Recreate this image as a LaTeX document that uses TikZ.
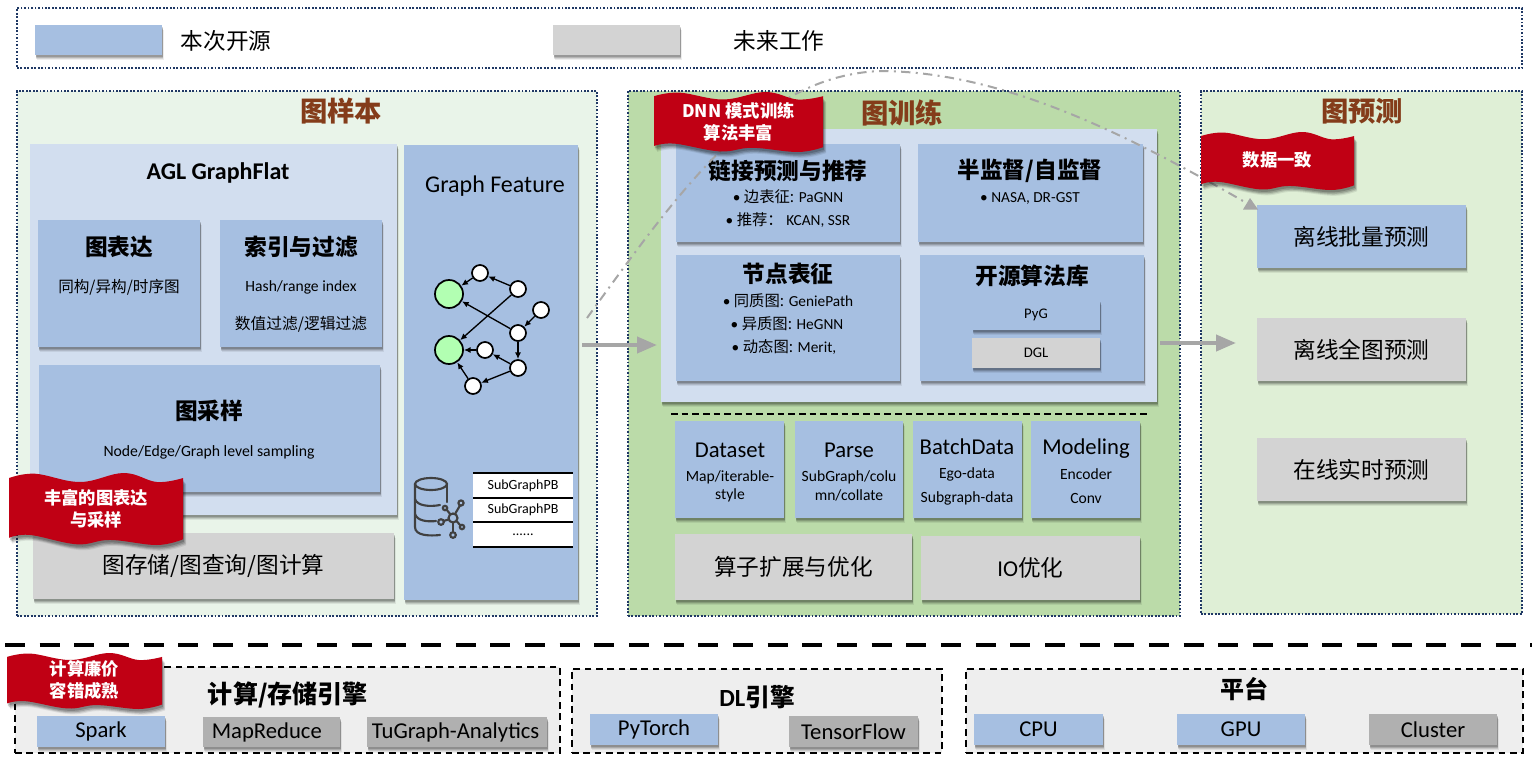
\documentclass[tikz,border=0pt]{standalone}
\usepackage{fontspec}
\setmainfont{Carlito}
\newfontfamily\cjk{Noto Sans CJK SC}
\usetikzlibrary{arrows.meta,shadows,calc}
\definecolor{bluebox}{HTML}{A6BFE1}
\definecolor{palebox}{HTML}{D2DEEF}
\definecolor{greybox}{HTML}{D3D3D3}
\definecolor{midgrey}{HTML}{B0B0B0}
\definecolor{panelA}{HTML}{E9F4E9}
\definecolor{panelB}{HTML}{BBDBA9}
\definecolor{panelC}{HTML}{DFEFD6}
\definecolor{titlebrown}{HTML}{843C1A}
\definecolor{flagred}{HTML}{C00014}
\definecolor{dotblue}{HTML}{1F3864}
\definecolor{arrowgrey}{HTML}{A6A6A6}
\definecolor{iconink}{HTML}{404040}
\newcommand\fs[1]{\fontsize{#1}{#1}\selectfont}
\newcommand\C[1]{{\cjk #1}}
\newcommand\dn[1]{\raisebox{-1.3pt}{#1}}
\tikzset{
  x=0.75pt,y=-0.75pt,
  boxbase/.style={inner sep=0pt,outer sep=0pt,align=center},
  softshadow/.style={
    general shadow={shadow xshift=1.2pt,shadow yshift=-3.4pt,fill=black,opacity=.07},
    general shadow={shadow xshift=1pt,shadow yshift=-2.8pt,fill=black,opacity=.10},
    general shadow={shadow xshift=.7pt,shadow yshift=-2.1pt,fill=black,opacity=.14},
    general shadow={shadow xshift=.4pt,shadow yshift=-1.3pt,fill=black,opacity=.16}},
  bluef/.style={boxbase,softshadow,fill=bluebox},
  palef/.style={boxbase,softshadow,fill=palebox},
  greyf/.style={boxbase,softshadow,fill=greybox},
  midf/.style={boxbase,softshadow,fill=midgrey},
  panel/.style={boxbase,draw=dotblue,line width=1.3pt,dash pattern=on 1.3pt off 1.3pt},
  engine/.style={boxbase,fill=black!6.5,draw=black,line width=1.2pt,dash pattern=on 5pt off 3.5pt},
  lbl/.style={inner sep=0pt,outer sep=0pt,align=center,text=black},
  bigarrow/.style={draw=arrowgrey,line width=3pt,-{Triangle[length=15pt,width=12pt]}},
  curvearrow/.style={draw=arrowgrey,line width=1.5pt,dash pattern=on 7pt off 4pt on 1.5pt off 4pt},
  green dot/.style={circle,draw=black,line width=1.3pt,fill=green!30!white!100,minimum size=21pt,inner sep=0pt},
  white dot/.style={circle,draw=black,line width=1.3pt,fill=white,minimum size=12pt,inner sep=0pt},
  gedge/.style={draw=black,line width=1pt,-{Latex[length=5pt,width=4.5pt]}},
  icon/.style={draw=iconink,line width=1.6pt},
  tablerow/.style={boxbase,fill=white},
  tablerule/.style={draw=black,line width=1pt},
  flagtext/.style={inner sep=0pt,align=center,text=white,font=\cjk\bfseries\fontsize{13}{16.5}\selectfont},
}
\newcommand\bx[7]{%
  \pgfmathsetmacro\cx{(#3+#5)/2}\pgfmathsetmacro\cy{(#4+#6)/2}%
  \pgfmathsetmacro\ww{(#5-#3)*0.75}\pgfmathsetmacro\hh{(#6-#4)*0.75}%
  \node[#2,minimum width=\ww pt,minimum height=\hh pt] (#1) at (\cx,\cy) {#7};}
\newcommand\tx[5]{\node[lbl,#4] (#1) at (#2,#3) {#5};}
% wave flag: name x1 y1 x2 y2 text
\newcommand\flagbox[6]{%
  \pgfmathsetmacro\ww{(#4-#2)*0.75}\pgfmathsetmacro\hh{(#5-#3)*0.75}%
  \begin{scope}[shift={(#2,#3)},x=\ww pt,y=-\hh pt]
    \path[fill=flagred,
      general shadow={shadow xshift=2.4pt,shadow yshift=-4.4pt,fill=black,opacity=.08},
      general shadow={shadow xshift=1.9pt,shadow yshift=-3.6pt,fill=black,opacity=.12},
      general shadow={shadow xshift=1.3pt,shadow yshift=-2.8pt,fill=black,opacity=.16},
      general shadow={shadow xshift=.7pt,shadow yshift=-1.8pt,fill=black,opacity=.18}]
      plot[smooth,tension=.65] coordinates {(0,.07) (.15,.01) (.41,.125) (.66,0) (.85,.125) (1,.07)}
      -- plot[smooth,tension=.65] coordinates {(1,.92) (.85,1) (.58,.93) (.39,.99) (.12,.86) (0,.90)}
      -- cycle;
    \node[flagtext] (#1) at (.5,.49) {#6};
  \end{scope}}
\begin{document}
\begin{tikzpicture}
\useasboundingbox (0,0) rectangle (1537,767);
\fill[white] (0,0) rectangle (1537,767);

% legend
\bx{legend}{panel}{17}{8}{1522}{68}{}
\bx{swblue}{bluef}{35}{25}{162}{55}{}
\bx{swgrey}{greyf}{553}{25}{680}{55}{}
\tx{ltxtA}{226}{41}{font=\cjk\fs{17}}{本次开源}
\tx{ltxtB}{779}{41}{font=\cjk\fs{17}}{未来工作}

% panels
\bx{pA}{panel,fill=panelA}{17}{91}{597}{616}{}
\bx{pB}{panel,fill=panelB}{628}{91}{1180}{616}{}
\bx{pC}{panel,fill=panelC}{1201}{91}{1522}{614}{}
\tx{tA}{341}{111}{font=\cjk\bfseries\fs{20.5},text=titlebrown}{图样本}
\tx{tB}{902}{113}{font=\cjk\bfseries\fs{20.5},text=titlebrown}{图训练}
\tx{tC}{1362}{111}{font=\cjk\bfseries\fs{20.5},text=titlebrown}{图预测}

% left panel
\bx{agl}{palef}{30}{144}{397}{515}{}
\tx{aglT}{218}{173}{font=\bfseries\fs{18}}{AGL GraphFlat}
\bx{feat}{bluef}{404}{145}{578}{600}{}
\tx{featT}{495}{186}{font=\fs{18}}{Graph Feature}
\bx{bA}{bluef}{38}{220}{200}{347}{}
\tx{bAt}{119}{247}{font=\cjk\bfseries\fs{17}}{图表达}
\tx{bAs}{119}{287}{font=\cjk\fs{11.7}}{同构/异构/时序图}
\bx{bB}{bluef}{220}{220}{382}{347}{}
\tx{bBt}{301}{247}{font=\cjk\bfseries\fs{17}}{索引与过滤}
\tx{bBs}{301}{287}{font=\fs{11.7}}{Hash/range index}
\tx{bBu}{301}{324}{font=\cjk\fs{11.8}}{数值过滤/逻辑过滤}
\bx{bC}{bluef}{39}{365}{380}{492}{}
\tx{bCt}{209}{411}{font=\cjk\bfseries\fs{17}}{图采样}
\tx{bCs}{209}{452}{font=\fs{11.8}}{Node/Edge/Graph level sampling}
\bx{store}{greyf}{33}{533}{394}{599}{\cjk\fs{17}\dn{图存储/图查询/图计算}}

% graph
\node[green dot] (g1) at (449,294) {};
\node[green dot] (g2) at (449,350) {};
\node[white dot] (na) at (480,273) {};
\node[white dot] (nb) at (518,289) {};
\node[white dot] (nc) at (541,310) {};
\node[white dot] (nd) at (518,333) {};
\node[white dot] (ne) at (485,350) {};
\node[white dot] (nf) at (518,368) {};
\node[white dot] (ng) at (473,386) {};
\foreach \s/\t in {na/g1,nb/na,nb/g2,nd/g1,nc/nd,nd/nf,nf/ne,ne/g2,nf/ng,ng/g2}
  \draw[gedge] (\s) -- (\t);

% database icon
\draw[icon] (431,484) ellipse [x radius=16,y radius=6];
\draw[icon,line cap=round] (415,484) -- (415,527) .. controls (415,536) and (430,536) .. (440,535);
\draw[icon,line cap=round] (447,484) -- (447,502);
\draw[icon,line cap=round] (415,499) .. controls (417,506) and (430,507) .. (440,505);
\draw[icon,line cap=round] (415,514) .. controls (417,521) and (428,522) .. (436,521);
\draw[icon] (453,518) circle [radius=4.5];
\draw[icon] (461,503) circle [radius=2.6];
\draw[icon] (445,508) circle [radius=2.2];
\draw[icon] (441,522) circle [radius=2.8];
\draw[icon] (462,527) circle [radius=2.2];
\draw[icon] (453,535) circle [radius=2.8];
\draw[icon] (455,514) -- (460,505.5);
\draw[icon] (450.5,514.5) -- (446.5,509.5);
\draw[icon] (448.5,519.5) -- (443.6,521);
\draw[icon] (456.5,521) -- (460.5,525.5);
\draw[icon] (453,522.5) -- (453,532);

% subgraph table
\bx{rowA}{tablerow}{473}{473}{573}{498}{\fs{10.5}\dn{SubGraphPB}}
\bx{rowB}{tablerow}{473}{498}{573}{522}{\fs{10.5}\dn{SubGraphPB}}
\bx{rowC}{tablerow}{473}{522}{573}{547}{\fs{10.5}\dn{......}}
\draw[tablerule] (rowA.north west) -- (rowA.north east);
\draw[tablerule] (rowA.south west) -- (rowA.south east);
\draw[tablerule] (rowB.south west) -- (rowB.south east);
\draw[tablerule] (rowC.south west) -- (rowC.south east);

% centre panel
\bx{inner}{palef}{661}{129}{1157}{402}{}
\bx{cA}{bluef}{676}{144}{900}{242}{}
\tx{cAt}{788}{171}{font=\cjk\bfseries\fs{17}}{链接预测与推荐}
\tx{cAs}{788}{197}{font=\fs{11.5}}{• \C{边表征:} PaGNN}
\tx{cAu}{788}{220}{font=\fs{11.5}}{• \C{推荐：} KCAN, SSR}
\bx{cB}{bluef}{918}{144}{1143}{242}{}
\tx{cBt}{1030}{171}{font=\cjk\bfseries\fs{17}}{半监督/自监督}
\tx{cBs}{1030}{199}{font=\fs{11.5}}{• NASA, DR-GST}
\bx{cC}{bluef}{676}{255}{900}{381}{}
\tx{cCt}{788}{274}{font=\cjk\bfseries\fs{17}}{节点表征}
\tx{cCs}{788}{301}{font=\fs{11.5}}{• \C{同质图:} GeniePath}
\tx{cCu}{787}{324}{font=\fs{11.5}}{• \C{异质图:} HeGNN}
\tx{cCv}{784}{347}{font=\fs{11.5}}{• \C{动态图:} Merit,}
\bx{cD}{bluef}{920}{255}{1144}{381}{}
\tx{cDt}{1032}{276}{font=\cjk\bfseries\fs{17}}{开源算法库}
\bx{pyg}{bluef}{972}{300}{1100}{330}{\fs{11}\dn{PyG}}
\bx{dgl}{greyf}{972}{338}{1100}{368}{\fs{11}\dn{DGL}}
\coordinate (sepL) at (671,414);
\coordinate (sepR) at (1147,414);
\draw[black,line width=1pt,dash pattern=on 5pt off 3pt] (sepL) -- (sepR);
\bx{dA}{bluef}{675}{421}{784}{518}{}
\tx{dAt}{730}{450}{font=\fs{17}}{Dataset}
\tx{dAs}{730}{477}{font=\fs{11.7}}{Map/iterable-}
\tx{dAu}{730}{495}{font=\fs{11.7}}{style}
\bx{dB}{bluef}{795}{421}{903}{518}{}
\tx{dBt}{849}{450}{font=\fs{17}}{Parse}
\tx{dBs}{849}{477}{font=\fs{11.7}}{SubGraph/colu}
\tx{dBu}{849}{495}{font=\fs{11.7}}{mn/collate}
\bx{dC}{bluef}{913}{421}{1022}{518}{}
\tx{dCt}{967}{447}{font=\fs{17}}{BatchData}
\tx{dCs}{967}{474}{font=\fs{11.7}}{Ego-data}
\tx{dCu}{967}{498}{font=\fs{11.7}}{Subgraph-data}
\bx{dD}{bluef}{1031}{421}{1140}{518}{}
\tx{dDt}{1086}{449}{font=\fs{17}}{Modeling}
\tx{dDs}{1086}{474}{font=\fs{11.7}}{Encoder}
\tx{dDu}{1086}{498}{font=\fs{11.7}}{Conv}
\bx{opA}{greyf}{675}{534}{912}{600}{\cjk\fs{17}算子扩展与优化}
\bx{opB}{greyf}{921}{536}{1140}{600}{\fs{17}IO\C{优化}}

% prediction panel
\bx{prA}{bluef}{1257}{205}{1466}{268}{\cjk\fs{17}离线批量预测}
\bx{prB}{greyf}{1257}{318}{1466}{381}{\cjk\fs{17}离线全图预测}
\bx{prC}{greyf}{1257}{438}{1466}{501}{\cjk\fs{17}在线实时预测}

% connectors
\coordinate (arA1) at (582,345);
\coordinate (arA2) at (657,345);
\coordinate (arB1) at (1160,343);
\coordinate (arB2) at (1236,343);
\coordinate (cvS) at (587,318);
\coordinate (cvM) at (881,71);
\coordinate (cvE) at (1250,205);
\draw[bigarrow] (arA1) -- (arA2);
\draw[bigarrow] (arB1) -- (arB2);
\draw[curvearrow] (cvS) .. controls (680,190) and (760,75) .. (cvM)
   .. controls (1000,72) and (1120,130) .. (cvE);
\fill[arrowgrey] (1250,198) -- (1258,209.5) -- (1243,209.5) -- cycle;

% divider and engines
\coordinate (divL) at (5,645);
\coordinate (divR) at (1532,645);
\draw[black,line width=3pt,dash pattern=on 15pt off 11pt] (divL) -- (divR);
\bx{eA}{engine}{15}{667}{560}{753}{}
\bx{eB}{engine}{572}{669}{942}{753}{}
\bx{eC}{engine}{966}{669}{1523}{753}{}
\tx{eAt}{288}{695}{font=\cjk\bfseries\fs{18.8}}{计算/存储引擎}
\tx{eBt}{757}{697}{font=\bfseries\fs{18.5}}{DL\C{引擎}}
\tx{eCt}{1244}{689}{font=\cjk\bfseries\fs{18}}{平台}
\bx{spark}{bluef}{37}{716}{165}{747}{\fs{17}\dn{Spark}}
\bx{mr}{midf}{203}{717}{340}{747}{\fs{17}\hspace*{-7pt}\dn{MapReduce}}
\bx{tu}{midf}{367}{717}{547}{747}{\fs{17}\hspace*{-2pt}\dn{TuGraph-Analytics}}
\bx{pt}{bluef}{590}{714}{718}{745}{\fs{17}\dn{PyTorch}}
\bx{tf}{midf}{789}{716}{918}{747}{\fs{17}\dn{TensorFlow}}
\bx{cpu}{bluef}{974}{714}{1103}{745}{\fs{17}\dn{CPU}}
\bx{gpu}{bluef}{1177}{714}{1305}{745}{\fs{17}\dn{GPU}}
\bx{cl}{midf}{1369}{714}{1497}{745}{\fs{17}\dn{Cluster}}

% flags
\flagbox{fA}{9}{473}{183}{545}{丰富的图表达\\与采样}
\flagbox{fB}{654}{92}{823}{152}{DNN 模式训练\\算法丰富}
\flagbox{fC}{1201}{132}{1354}{190}{数据一致}
\flagbox{fD}{7}{653}{162}{709}{计算廉价\\容错成熟}
\end{tikzpicture}
\end{document}
